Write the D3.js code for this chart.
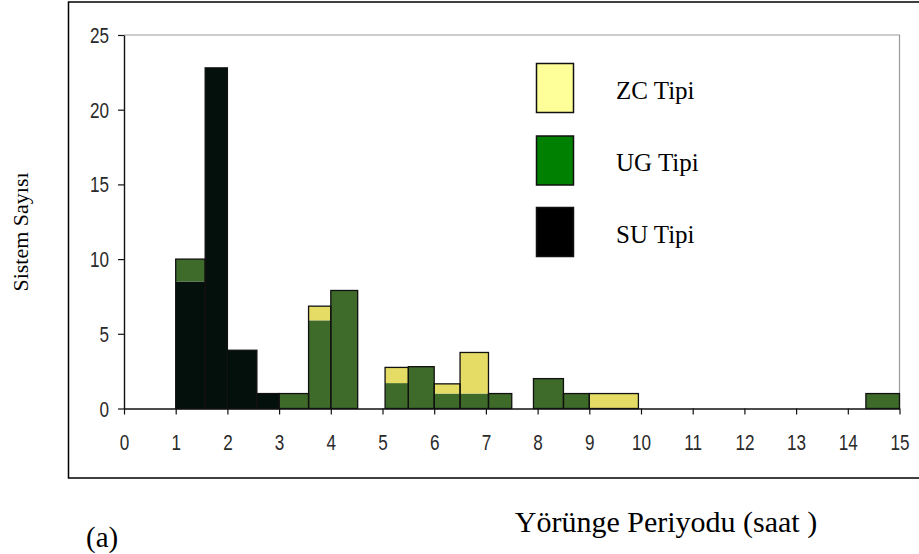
<!DOCTYPE html>
<html>
<head>
<meta charset="utf-8">
<script src="https://cdn.jsdelivr.net/npm/d3@7"></script>
<style>
  body { margin: 0; background: #fff; }
  svg { display: block; }
</style>
</head>
<body>
<svg id="chart" width="919" height="554"></svg>
<script>
// Orbital period bins (hours) and system counts per type
const binStart = [1, 1.57, 2, 2.57, 3, 3.57, 4, 5.05, 5.5, 6, 6.5, 7.05, 7.92, 8.5, 9, 14.35];
const binEnd   = [1.57, 2, 2.57, 3, 3.57, 4, 4.52, 5.5, 6, 6.5, 7.05, 7.5, 8.5, 9, 9.95, 15];
const suCounts = [8.5, 22.8, 3.9, 1, 0, 0, 0, 0, 0, 0, 0, 0, 0, 0, 0, 0];
const ugCounts = [1.5, 0, 0, 0, 1, 5.9, 7.9, 1.7, 2.8, 1, 1, 1, 2, 1, 0, 1];
const zcCounts = [0, 0, 0, 0, 0, 0.95, 0, 1.05, 0, 0.65, 2.75, 0, 0, 0, 1, 0];

const xTicks = d3.range(0, 16);
const yTicks = [0, 5, 10, 15, 20, 25];

const seriesKeys = ["su", "ug", "zc"];
const barColors = { su: "#04100c", ug: "#3e6a2a", zc: "#e4dc64" };
const legendItems = [
  { label: "ZC Tipi", color: "#ffff99" },
  { label: "UG Tipi", color: "#008000" },
  { label: "SU Tipi", color: "#000000" }
];

const svg = d3.select("#chart");

const x = d3.scaleLinear().domain([0, 15]).range([124, 899.5]);
const y = d3.scaleLinear().domain([0, 25]).range([408.5, 35]);

// outer frame
svg.append("rect")
  .attr("x", 68.5).attr("y", 2)
  .attr("width", 860).attr("height", 476)
  .attr("fill", "none").attr("stroke", "#000").attr("stroke-width", 1.5);

// plot area border (top and right, gray)
svg.append("path")
  .attr("d", `M${x(0)},${y(25)}H${x(15)}V${y(0)}`)
  .attr("fill", "none").attr("stroke", "#9a9a9a").attr("stroke-width", 1.2);

// stacked bars
const rows = binStart.map((s, i) => ({
  start: s, end: binEnd[i], su: suCounts[i], ug: ugCounts[i], zc: zcCounts[i]
}));
const stacked = d3.stack().keys(seriesKeys)(rows);

const barG = svg.append("g");
stacked.forEach(layer => {
  barG.selectAll(null)
    .data(layer.filter(d => d[1] - d[0] > 0))
    .join("rect")
    .attr("x", d => x(d.data.start))
    .attr("width", d => x(d.data.end) - x(d.data.start))
    .attr("y", d => y(d[1]))
    .attr("height", d => y(d[0]) - y(d[1]))
    .attr("fill", barColors[layer.key]);
});
// outline of each full stack
barG.selectAll(null)
  .data(rows)
  .join("rect")
  .attr("x", d => x(d.start))
  .attr("width", d => x(d.end) - x(d.start))
  .attr("y", d => y(d.su + d.ug + d.zc))
  .attr("height", d => y(0) - y(d.su + d.ug + d.zc))
  .attr("fill", "none")
  .attr("stroke", "#111")
  .attr("stroke-width", 1.3);

// axes
const xAxis = d3.axisBottom(x).tickValues(xTicks).tickSizeInner(6).tickSizeOuter(0).tickPadding(21);
const yAxis = d3.axisLeft(y).tickValues(yTicks).tickSizeInner(6).tickSizeOuter(0).tickPadding(9);

const gx = svg.append("g").attr("transform", `translate(0,${y(0)})`).call(xAxis);
const gy = svg.append("g").attr("transform", `translate(${x(0)},0)`).call(yAxis);

// tall, narrow tick digits
const sx = 0.9, sy = 1.15;
[gx, gy].forEach(g => {
  g.select(".domain").attr("stroke", "#111").attr("stroke-width", 1.4);
  g.selectAll(".tick line").attr("stroke", "#111").attr("stroke-width", 1.2);
  g.selectAll(".tick text")
    .attr("font-family", "'Liberation Sans', Arial, sans-serif")
    .attr("font-size", 19)
    .attr("fill", "#2a2a2a")
    .attr("dy", null)
    .attr("transform", `scale(${sx},${sy})`);
});
gx.selectAll(".tick text").attr("x", 0).attr("y", 42 / sy);
gy.selectAll(".tick text").attr("x", -15 / sx).attr("y", 7.5 / sy);

// legend
const legend = svg.append("g");
const legendTop = [63.5, 136, 207.5];
legendItems.forEach((item, i) => {
  legend.append("rect")
    .attr("x", 536.5).attr("y", legendTop[i])
    .attr("width", 37).attr("height", 49)
    .attr("fill", item.color)
    .attr("stroke", "#111").attr("stroke-width", 1.5);
  legend.append("text")
    .attr("x", 616).attr("y", legendTop[i] + 35)
    .attr("font-family", "'Liberation Serif', 'Times New Roman', serif")
    .attr("font-size", 25)
    .attr("fill", "#000")
    .text(item.label);
});

// axis titles
svg.append("text")
  .attr("transform", "translate(28,232) rotate(-90)")
  .attr("text-anchor", "middle")
  .attr("font-family", "'Liberation Serif', 'Times New Roman', serif")
  .attr("font-size", 22)
  .text("Sistem Sayısı");

svg.append("text")
  .attr("x", 666).attr("y", 532)
  .attr("text-anchor", "middle")
  .attr("font-family", "'Liberation Serif', 'Times New Roman', serif")
  .attr("font-size", 30)
  .text("Yörünge Periyodu (saat )");

svg.append("text")
  .attr("x", 86).attr("y", 547)
  .attr("font-family", "'Liberation Serif', 'Times New Roman', serif")
  .attr("font-size", 29)
  .text("(a)");
</script>
</body>
</html>
